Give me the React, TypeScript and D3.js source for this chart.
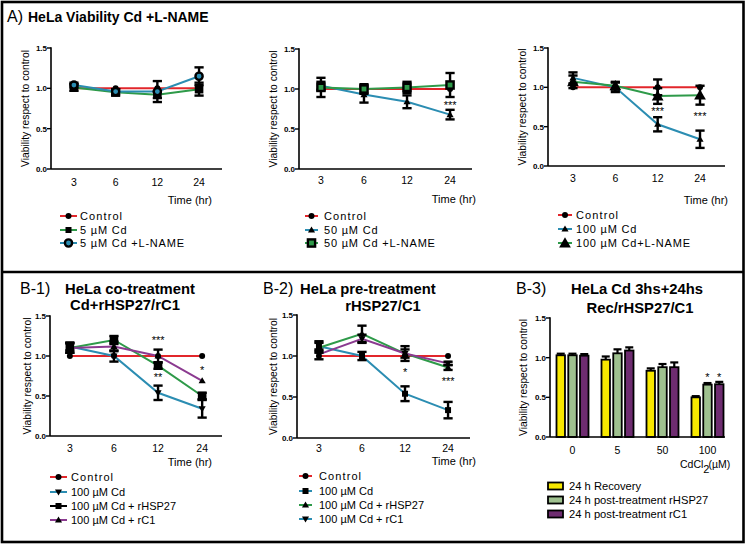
import React from "react";
import * as d3 from "d3";

// ---------- shared categories ----------
const TIMES = ["3", "6", "12", "24"];
const Y_TICKS = [0, 0.5, 1.0, 1.5];
const Y_TICK_LABELS = ["0.0", "0.5", "1.0", "1.5"];
const DOSES = ["0", "5", "50", "100"];

// ---------- Panel A (left): 5 µM ----------
const a1Control = [1, 1, 1, 1];
const a1Cd5 = [1.01, 0.95, 0.92, 0.99];
const a1Cd5Err = [0.04, 0.04, 0.04, 0.08];
const a1Cd5L = [1.04, 0.96, 0.96, 1.15];
const a1Cd5LErr = [0.03, 0.03, 0.13, 0.11];

// ---------- Panel A (middle): 50 µM ----------
const a2Control = [1, 1, 1, 1];
const a2Cd50 = [1.04, 0.93, 0.84, 0.68];
const a2Cd50Err = [0.05, 0.1, 0.08, 0.06];
const a2Cd50L = [1.02, 1.0, 1.02, 1.05];
const a2Cd50LErr = [0.12, 0.06, 0.07, 0.15];

// ---------- Panel A (right): 100 µM ----------
const a3Control = [1, 1, 1, 1];
const a3ControlErr = [0, 0, 0.1, 0];
const a3Cd100 = [1.12, 1.0, 0.53, 0.34];
const a3Cd100Err = [0.07, 0.06, 0.09, 0.11];
const a3Cd100L = [1.07, 1.02, 0.89, 0.9];
const a3Cd100LErr = [0.08, 0.05, 0.1, 0.12];

// ---------- Panel B-1 ----------
const b1Control = [1, 1, 1, 1];
const b1Cd100 = [1.12, 1.0, 0.54, 0.34];
const b1Cd100Err = [0.05, 0.07, 0.09, 0.11];
const b1Hsp27 = [1.1, 1.2, 0.88, 0.5];
const b1Hsp27Err = [0.06, 0.05, 0.04, 0.04];
const b1Rc1 = [1.1, 1.12, 1.0, 0.69];
const b1Rc1Err = [0.06, 0.06, 0.08, 0];

// ---------- Panel B-2 ----------
const b2Control = [1, 1, 1, 1];
const b2Cd100 = [1.12, 1.0, 0.54, 0.34];
const b2Cd100Err = [0.06, 0.05, 0.09, 0.1];
const b2Hsp27 = [1.1, 1.27, 1.03, 0.86];
const b2Hsp27Err = [0.06, 0.1, 0.09, 0.03];
const b2Rc1 = [1.02, 1.21, 1.03, 0.91];
const b2Rc1Err = [0.06, 0.05, 0.05, 0.02];

// ---------- Panel B-3 (bars) ----------
const b3Recovery = [1.03, 0.975, 0.835, 0.5];
const b3RecoveryErr = [0.02, 0.04, 0.03, 0.015];
const b3Hsp27 = [1.03, 1.055, 0.88, 0.66];
const b3Hsp27Err = [0.02, 0.05, 0.04, 0.02];
const b3Rc1 = [1.025, 1.09, 0.88, 0.665];
const b3Rc1Err = [0.02, 0.04, 0.06, 0.03];

const RED = "#e2262b";
const TEAL = "#2b8db2";
const GREEN = "#2e9a49";
const PURPLE = "#8b3a90";
const YELLOW = "#f7e800";
const SAGE = "#9fc18f";
const PLUM = "#6e2c70";

const FONT = "'Liberation Sans', Arial, Helvetica, sans-serif";

type Series = {
  values: number[];
  errs?: number[];
  color: string;
  marker: string;
  mfill?: string;
};
type LegendEntry = { label: string; color: string; marker: string; mfill?: string };
type Note = { x: string; y: number; text: string };

function Marker({ type, x, y, fill }: { type: string; x: number; y: number; fill?: string }) {
  if (type === "none") return null;
  if (type === "circle") return <circle cx={x} cy={y} r={3} fill="#000" />;
  if (type === "ring")
    return <circle cx={x} cy={y} r={3.6} fill={fill || "#fff"} stroke="#000" strokeWidth={2.4} />;
  if (type === "square") return <rect x={x - 4.3} y={y - 4.3} width={8.6} height={8.6} fill="#000" />;
  if (type === "squareSmall") return <rect x={x - 3} y={y - 3} width={6} height={6} fill="#000" />;
  if (type === "squareOpen")
    return (
      <rect x={x - 3.6} y={y - 3.6} width={7.2} height={7.2} fill={fill || "#fff"} stroke="#000" strokeWidth={2.4} />
    );
  const sym = d3.symbol().type(d3.symbolTriangle);
  if (type === "tri") return <path d={sym.size(22)()!} transform={`translate(${x},${y + 0.5})`} fill="#000" />;
  if (type === "triBig") return <path d={sym.size(60)()!} transform={`translate(${x},${y + 1})`} fill="#000" />;
  if (type === "triDown")
    return <path d={sym.size(22)()!} transform={`translate(${x},${y - 0.5}) rotate(180)`} fill="#000" />;
  return null;
}

type LineCfg = {
  x0: number; x1: number; yT: number; yB: number; pad: number;
  ylabX: number; tickBase: number; timeX: number; timeBase: number;
  legX0: number; legX1: number; legTX: number; legRows: number[]; legSpacing: number; controlSpacing: number;
  series: Series[]; legend: LegendEntry[]; notes: Note[];
};

function YAxis({ x0, yT, yB, ylabX }: { x0: number; yT: number; yB: number; ylabX: number }) {
  const y = d3.scaleLinear().domain([0, 1.5]).range([yB, yT]);
  const cy = (yT + yB) / 2;
  return (
    <g>
      <line x1={x0} x2={x0} y1={y(1.5) - 0.8} y2={yB} stroke="#000" strokeWidth={1.6} />
      {Y_TICKS.map((t, i) => (
        <g key={i}>
          <line x1={x0 - 4} x2={x0} y1={y(t)} y2={y(t)} stroke="#000" strokeWidth={1.4} />
          <text x={x0 - 4} y={y(t) + 3} fontSize={8} fontWeight="bold" textAnchor="end" fontFamily={FONT}>
            {Y_TICK_LABELS[i]}
          </text>
        </g>
      ))}
      <text
        transform={`translate(${ylabX + 4},${cy}) rotate(-90)`}
        textAnchor="middle"
        fontSize={10.6}
        fontFamily={FONT}
        textLength={117}
        lengthAdjust="spacingAndGlyphs"
      >
        Viability respect to control
      </text>
    </g>
  );
}

function LinePanel({ c }: { c: LineCfg }) {
  const x = d3.scalePoint<string>().domain(TIMES).range([c.x0, c.x1]).padding(c.pad);
  const y = d3.scaleLinear().domain([0, 1.5]).range([c.yB, c.yT]);
  const line = d3
    .line<number>()
    .x((_, i) => x(TIMES[i])!)
    .y((d) => y(d));
  const cap = 4.6;
  return (
    <g>
      {c.series.map((s, si) => (
        <path key={si} d={line(s.values)!} fill="none" stroke={s.color} strokeWidth={2} />
      ))}
      {c.series.map((s, si) =>
        (s.errs || []).map((e, i) => {
          if (!e) return null;
          const cx = x(TIMES[i])!;
          const t = y(s.values[i] + e);
          const b = y(s.values[i] - e);
          return (
            <g key={`${si}-${i}`} stroke="#000" strokeWidth={2.4}>
              <line x1={cx} x2={cx} y1={t} y2={b} />
              <line x1={cx - cap} x2={cx + cap} y1={t} y2={t} />
              <line x1={cx - cap} x2={cx + cap} y1={b} y2={b} />
            </g>
          );
        })
      )}
      {c.series.map((s, si) =>
        s.values.map((v, i) => <Marker key={`${si}m${i}`} type={s.marker} x={x(TIMES[i])!} y={y(v)} fill={s.mfill} />)
      )}
      <YAxis x0={c.x0} yT={c.yT} yB={c.yB} ylabX={c.ylabX} />
      <line x1={c.x0} x2={c.x1} y1={c.yB} y2={c.yB} stroke="#000" strokeWidth={1.6} />
      {TIMES.map((t) => (
        <text key={t} x={x(t)!} y={c.tickBase} fontSize={10.5} textAnchor="middle" fontFamily={FONT}>
          {t}
        </text>
      ))}
      <text x={c.timeX} y={c.timeBase} fontSize={11} textAnchor="end" fontFamily={FONT}>
        Time (hr)
      </text>
      {c.notes.map((n, i) => (
        <text key={i} x={x(n.x)!} y={y(n.y) + 5.5} fontSize={11} textAnchor="middle" fontFamily={FONT} fill="#000">
          {n.text}
        </text>
      ))}
      {c.legend.map((l, i) => {
        const ry = c.legRows[i];
        return (
          <g key={i}>
            <line x1={c.legX0} x2={c.legX1} y1={ry} y2={ry} stroke={l.color} strokeWidth={2} />
            <Marker type={l.marker} x={(c.legX0 + c.legX1) / 2} y={ry} fill={l.mfill} />
            <text
              x={c.legTX}
              y={ry + 4}
              fontSize={11}
              fontFamily={FONT}
              letterSpacing={l.label === "Control" ? c.controlSpacing : c.legSpacing}
            >
              {l.label}
            </text>
          </g>
        );
      })}
    </g>
  );
}

const panelA1: LineCfg = {
  x0: 51, x1: 222, yT: 48, yB: 169, pad: 0.55, ylabX: 25, tickBase: 186, timeX: 212, timeBase: 204,
  legX0: 60, legX1: 77, legTX: 80, legRows: [216, 230, 243], legSpacing: 0.8, controlSpacing: 1.1,
  series: [
    { values: a1Control, color: RED, marker: "circle" },
    { values: a1Cd5, errs: a1Cd5Err, color: GREEN, marker: "square" },
    { values: a1Cd5L, errs: a1Cd5LErr, color: TEAL, marker: "ring", mfill: TEAL },
  ],
  legend: [
    { label: "Control", color: RED, marker: "circle" },
    { label: "5 µM Cd", color: GREEN, marker: "squareSmall" },
    { label: "5 µM Cd +L-NAME", color: TEAL, marker: "ring", mfill: TEAL },
  ],
  notes: [],
};

const panelA2: LineCfg = {
  x0: 299, x1: 472, yT: 49, yB: 169, pad: 0.51, ylabX: 273, tickBase: 184, timeX: 476, timeBase: 203,
  legX0: 305, legX1: 318, legTX: 324, legRows: [216, 230, 243], legSpacing: 0.8, controlSpacing: 1.1,
  series: [
    { values: a2Control, color: RED, marker: "circle" },
    { values: a2Cd50, errs: a2Cd50Err, color: TEAL, marker: "tri" },
    { values: a2Cd50L, errs: a2Cd50LErr, color: GREEN, marker: "squareOpen", mfill: GREEN },
  ],
  legend: [
    { label: "Control", color: RED, marker: "circle" },
    { label: "50 µM Cd", color: TEAL, marker: "tri" },
    { label: "50 µM Cd +L-NAME", color: GREEN, marker: "squareOpen", mfill: GREEN },
  ],
  notes: [{ x: "24", y: 0.82, text: "***" }],
};

const panelA3: LineCfg = {
  x0: 548, x1: 725, yT: 48, yB: 166, pad: 0.59, ylabX: 522, tickBase: 182, timeX: 728, timeBase: 204,
  legX0: 558, legX1: 572, legTX: 576, legRows: [215, 229, 243], legSpacing: 0.8, controlSpacing: 1.1,
  series: [
    { values: a3Control, errs: a3ControlErr, color: RED, marker: "circle" },
    { values: a3Cd100, errs: a3Cd100Err, color: TEAL, marker: "tri" },
    { values: a3Cd100L, errs: a3Cd100LErr, color: GREEN, marker: "triBig" },
  ],
  legend: [
    { label: "Control", color: RED, marker: "circle" },
    { label: "100 µM Cd", color: TEAL, marker: "tri" },
    { label: "100 µM Cd+L-NAME", color: GREEN, marker: "triBig" },
  ],
  notes: [
    { x: "12", y: 0.72, text: "***" },
    { x: "24", y: 0.66, text: "***" },
  ],
};

const panelB1: LineCfg = {
  x0: 50, x1: 222, yT: 316, yB: 436, pad: 0.45, ylabX: 27, tickBase: 452, timeX: 212, timeBase: 466,
  legX0: 50, legX1: 67, legTX: 71, legRows: [477, 492, 506, 520], legSpacing: 0, controlSpacing: 1.1,
  series: [
    { values: b1Control, color: RED, marker: "circle" },
    { values: b1Cd100, errs: b1Cd100Err, color: TEAL, marker: "triDown" },
    { values: b1Hsp27, errs: b1Hsp27Err, color: GREEN, marker: "square" },
    { values: b1Rc1, errs: b1Rc1Err, color: PURPLE, marker: "tri" },
  ],
  legend: [
    { label: "Control", color: RED, marker: "circle" },
    { label: "100 µM Cd", color: TEAL, marker: "triDown" },
    { label: "100 µM Cd + rHSP27", color: "#000", marker: "squareSmall" },
    { label: "100 µM Cd + rC1", color: PURPLE, marker: "tri" },
  ],
  notes: [
    { x: "12", y: 1.225, text: "***" },
    { x: "12", y: 0.76, text: "**" },
    { x: "24", y: 0.85, text: "*" },
  ],
};

const panelB2: LineCfg = {
  x0: 297, x1: 470, yT: 315, yB: 438, pad: 0.51, ylabX: 273, tickBase: 452, timeX: 476, timeBase: 465,
  legX0: 299, legX1: 312, legTX: 319, legRows: [476, 491, 505, 519], legSpacing: 0, controlSpacing: 1.1,
  series: [
    { values: b2Control, color: RED, marker: "circle" },
    { values: b2Cd100, errs: b2Cd100Err, color: TEAL, marker: "squareSmall" },
    { values: b2Hsp27, errs: b2Hsp27Err, color: GREEN, marker: "tri" },
    { values: b2Rc1, errs: b2Rc1Err, color: PURPLE, marker: "triDown" },
  ],
  legend: [
    { label: "Control", color: RED, marker: "circle" },
    { label: "100 µM Cd", color: TEAL, marker: "squareSmall" },
    { label: "100 µM Cd + rHSP27", color: GREEN, marker: "tri" },
    { label: "100 µM Cd + rC1", color: TEAL, marker: "triDown" },
  ],
  notes: [
    { x: "12", y: 0.82, text: "*" },
    { x: "24", y: 0.71, text: "***" },
  ],
};

function BarPanel() {
  const x0 = 550, x1 = 725, yT = 318, yB = 437;
  const g = d3.scalePoint<string>().domain(DOSES).range([550, 730]).padding(0.5);
  const sub = d3.scaleBand<number>().domain([0, 1, 2]).range([-16, 16]).paddingInner(0.28);
  const y = d3.scaleLinear().domain([0, 1.5]).range([yB, yT]);
  const groups = [
    { vals: b3Recovery, errs: b3RecoveryErr, color: YELLOW, label: "24 h Recovery" },
    { vals: b3Hsp27, errs: b3Hsp27Err, color: SAGE, label: "24 h post-treatment rHSP27" },
    { vals: b3Rc1, errs: b3Rc1Err, color: PLUM, label: "24 h post-treatment rC1" },
  ];
  const bw = sub.bandwidth();
  const notes = [
    { dose: "100", s: 1, y: 0.78, text: "*" },
    { dose: "100", s: 2, y: 0.78, text: "*" },
  ];
  const legRows = [486, 500, 514];
  return (
    <g>
      {groups.map((s, si) =>
        s.vals.map((v, i) => {
          const bx = g(DOSES[i])! + sub(si)!;
          const top = y(v);
          const et = y(v + s.errs[i]);
          const cx = bx + bw / 2;
          return (
            <g key={`${si}-${i}`}>
              <line x1={cx} x2={cx} y1={top} y2={et} stroke="#000" strokeWidth={2.2} />
              <line x1={cx - 4} x2={cx + 4} y1={et} y2={et} stroke="#000" strokeWidth={2.2} />
              <rect x={bx} y={top} width={bw} height={yB - top} fill={s.color} stroke="#000" strokeWidth={1.8} />
            </g>
          );
        })
      )}
      <YAxis x0={x0} yT={yT} yB={yB} ylabX={523} />
      <line x1={x0} x2={x1} y1={yB} y2={yB} stroke="#000" strokeWidth={1.6} />
      {DOSES.map((d) => (
        <text key={d} x={g(d)!} y={454} fontSize={10.5} textAnchor="middle" fontFamily={FONT}>
          {d}
        </text>
      ))}
      <text x={680} y={468} fontSize={10.5} fontFamily={FONT}>
        CdCl
        <tspan dy={5} fontSize={11}>2</tspan>
        <tspan dy={-5} dx={-1}>(µM)</tspan>
      </text>
      {notes.map((n, i) => (
        <text
          key={i}
          x={g(n.dose)! + sub(n.s)! + bw / 2}
          y={y(n.y) + 5.5}
          fontSize={11}
          textAnchor="middle"
          fontFamily={FONT}
        >
          {n.text}
        </text>
      ))}
      {groups.map((s, i) => (
        <g key={i}>
          <rect x={548} y={legRows[i] - 3.5} width={15} height={7} fill={s.color} stroke="#000" strokeWidth={1.8} />
          <text x={569} y={legRows[i] + 4} fontSize={11.2} fontFamily={FONT}>
            {s.label}
          </text>
        </g>
      ))}
    </g>
  );
}

export default function App() {
  return (
    <svg
      width={746}
      height={544}
      viewBox="0 0 746 544"
      style={{ position: "absolute", left: 0, top: 0, background: "#fff" }}
    >
      <rect x={0} y={0} width={746} height={544} fill="#fff" />
      <rect x={2} y={2} width={741.5} height={540} fill="none" stroke="#000" strokeWidth={2.6} />
      <line x1={2} x2={744} y1={272} y2={272} stroke="#000" strokeWidth={2.6} />

      <text x={7} y={22} fontFamily={FONT} fontSize={16}>
        A)
        <tspan dx={5} fontWeight="bold" fontSize={14}>
          HeLa Viability Cd +L-NAME
        </tspan>
      </text>

      <text x={20} y={294} fontFamily={FONT} fontSize={16}>B-1)</text>
      <text x={65} y={294} fontFamily={FONT} fontSize={14.8} fontWeight="bold">HeLa co-treatment</text>
      <text x={125} y={310} fontFamily={FONT} fontSize={14.8} fontWeight="bold" textAnchor="middle">Cd+rHSP27/rC1</text>

      <text x={263} y={294} fontFamily={FONT} fontSize={16}>B-2)</text>
      <text x={300} y={294} fontFamily={FONT} fontSize={14.8} fontWeight="bold">HeLa pre-treatment</text>
      <text x={383} y={311} fontFamily={FONT} fontSize={14.8} fontWeight="bold" textAnchor="middle">rHSP27/C1</text>

      <text x={516} y={294} fontFamily={FONT} fontSize={16}>B-3)</text>
      <text x={637} y={294} fontFamily={FONT} fontSize={14.8} fontWeight="bold" textAnchor="middle">HeLa Cd 3hs+24hs</text>
      <text x={640} y={313} fontFamily={FONT} fontSize={14.8} fontWeight="bold" textAnchor="middle">Rec/rHSP27/C1</text>

      <LinePanel c={panelA1} />
      <LinePanel c={panelA2} />
      <LinePanel c={panelA3} />
      <LinePanel c={panelB1} />
      <LinePanel c={panelB2} />
      <BarPanel />
    </svg>
  );
}
